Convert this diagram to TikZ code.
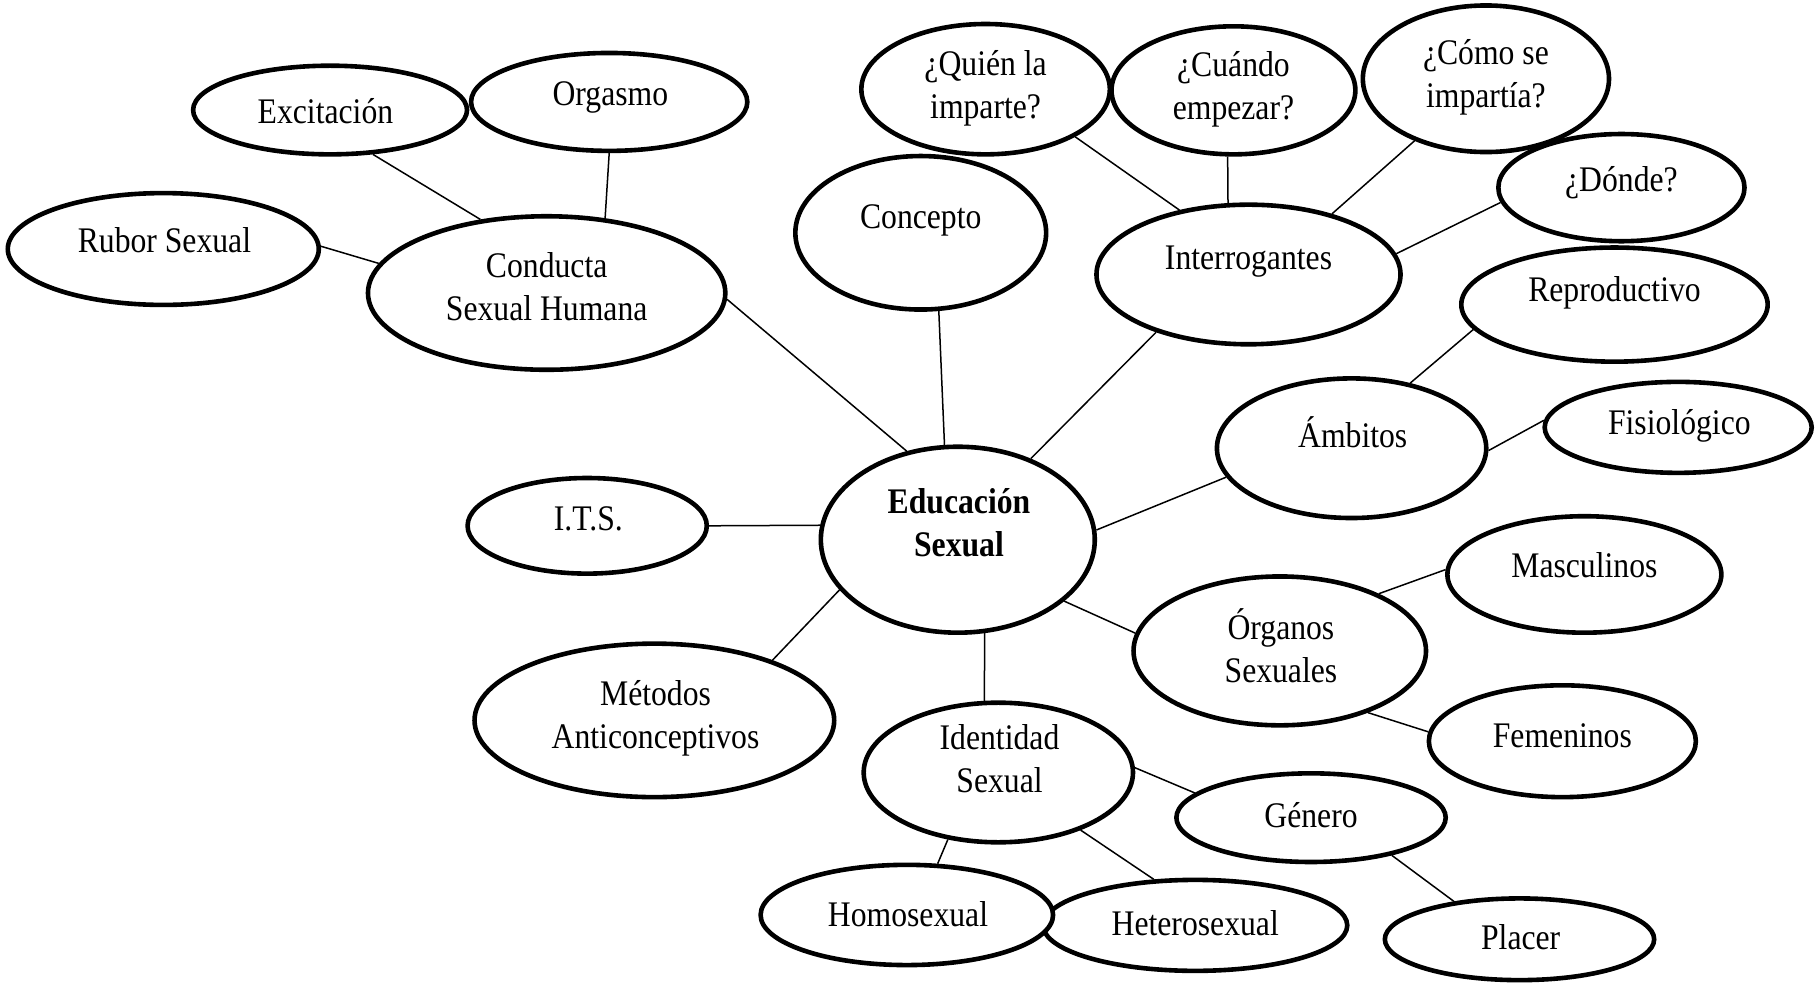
\documentclass[tikz,border=0pt]{standalone}
\usepackage{fontspec}
\setmainfont{Liberation Serif}[FakeStretch=0.88]
\usetikzlibrary{shapes.geometric}
\begin{document}
\begin{tikzpicture}[x=0.5791pt,y=-0.5791pt,
  ov/.style 2 args={ellipse, draw, line width=2.3pt, fill=white, inner sep=0pt,
    minimum width=#1*1.1582pt-2pt, minimum height=#2*1.1582pt-2pt},
  txt/.style={align=center, font=\fontsize{18}{21.5}\selectfont, inner sep=0pt},
  con/.style={line width=0.75pt}]
\useasboundingbox (0,0) rectangle (1568,852);

% ellipses
\node[ov={120}{40}] (exc) at (285,95) {};
\node[ov={121}{44}] (org) at (526,88) {};
\node[ov={136}{50}] (rub) at (141,215) {};
\node[ov={156}{68}] (csh) at (472,253) {};
\node[ov={110}{68}] (cpt) at (795,201) {};
\node[ov={109}{58}] (qui) at (851,77) {};
\node[ov={107}{57}] (cua) at (1065,78) {};
\node[ov={108}{65}] (com) at (1283,68) {};
\node[ov={108}{48}] (don) at (1400,162) {};
\node[ov={133}{62}] (int) at (1078,237) {};
\node[ov={134}{51}] (rep) at (1394,263) {};
\node[ov={118}{62}] (amb) at (1167,387) {};
\node[ov={117}{41}] (fis) at (1449,369) {};
\node[ov={120}{82}] (edu) at (827,466) {};
\node[ov={105}{43}] (its) at (507,454) {};
\node[ov={157}{68}] (met) at (565,622) {};
\node[ov={120}{52}] (mas) at (1368,496) {};
\node[ov={128}{66}] (orga) at (1105,562) {};
\node[ov={117}{50}] (fem) at (1349,640) {};
\node[ov={118}{62}] (ide) at (862,667) {};
\node[ov={118}{40}] (gen) at (1132,706) {};
\node[ov={118}{37}] (pla) at (1312,811) {};
\node[ov={133}{41}] (het) at (1032,799) {};
\node[ov={128}{45}] (hom) at (783,790) {};

% texts
\node[txt] (exc-t) at (281,96) {Excitación};
\node[txt] (org-t) at (527,84) {Orgasmo};
\node[txt] (rub-t) at (142,207) {Rubor Sexual};
\node[txt] (csh-t) at (472,247.5) {Conducta\\Sexual Humana};
\node[txt] (cpt-t) at (795,190) {Concepto};
\node[txt] (qui-t) at (851,76) {¿Quién la\\imparte?};
\node[txt] (cua-t) at (1065,77) {¿Cuándo\\empezar?};
\node[txt] (com-t) at (1283,67) {¿Cómo se\\impartía?};
\node[txt] (don-t) at (1400,158) {¿Dónde?};
\node[txt] (int-t) at (1078,226) {Interrogantes};
\node[txt] (rep-t) at (1394,253) {Reproductivo};
\node[txt] (amb-t) at (1168,373) {Ámbitos};
\node[txt] (fis-t) at (1450,368) {Fisiológico};
\node[txt] (edu-t) at (828,451.5) {\textbf{Educación}\\\textbf{Sexual}};
\node[txt] (its-t) at (508,448) {I.T.S.};
\node[txt] (met-t) at (566,620.5) {Métodos\\Anticonceptivos};
\node[txt] (mas-t) at (1368,488) {Masculinos};
\node[txt] (orga-t) at (1106,557.5) {Órganos\\Sexuales};
\node[txt] (fem-t) at (1349,635) {Femeninos};
\node[txt] (ide-t) at (863,655.5) {Identidad\\Sexual};
\node[txt] (gen-t) at (1132,704) {Género};
\node[txt] (pla-t) at (1313,809) {Placer};
\node[txt] (hom-t) at (784,789) {Homosexual};
\node[txt] (het-t) at (1032,797) {Heterosexual};

% connectors
\draw[con] (exc.-46.7) -- (csh.132.8);
\draw[con] (org.-90) -- (csh.52);
\draw[con] (rub.1) -- (csh.170.5);
\draw[con] (csh.-2) -- (edu.120);
\draw[con] (cpt.-77) -- (edu.98.6);
\draw[con] (int.-148) -- (edu.48.7);
\draw[con] (qui.-28.6) -- (int.137.5);
\draw[con] (cua.-95) -- (int.106);
\draw[con] (com.-139.4) -- (int.36.6);
\draw[con] (don.187.5) -- (int.8.9);
\draw[con] (rep.190.5) -- (amb.48.7);
\draw[con] (fis.177.5) -- (amb.-1.5);
\draw[con] (amb.193) -- (edu.4);
\draw[con] (its.0) -- (edu.174.7);
\draw[con] (met.27.7) -- (edu.203.7);
\draw[con] (orga.173) -- (edu.-30);
\draw[con] (mas.178) -- (orga.30);
\draw[con] (fem.176) -- (orga.-35);
\draw[con] (ide.101) -- (edu.-74);
\draw[con] (gen.168) -- (ide.2);
\draw[con] (pla.150) -- (gen.-25.6);
\draw[con] (hom.59) -- (ide.-127);
\draw[con] (het.132) -- (ide.-35);
\end{tikzpicture}
\end{document}
